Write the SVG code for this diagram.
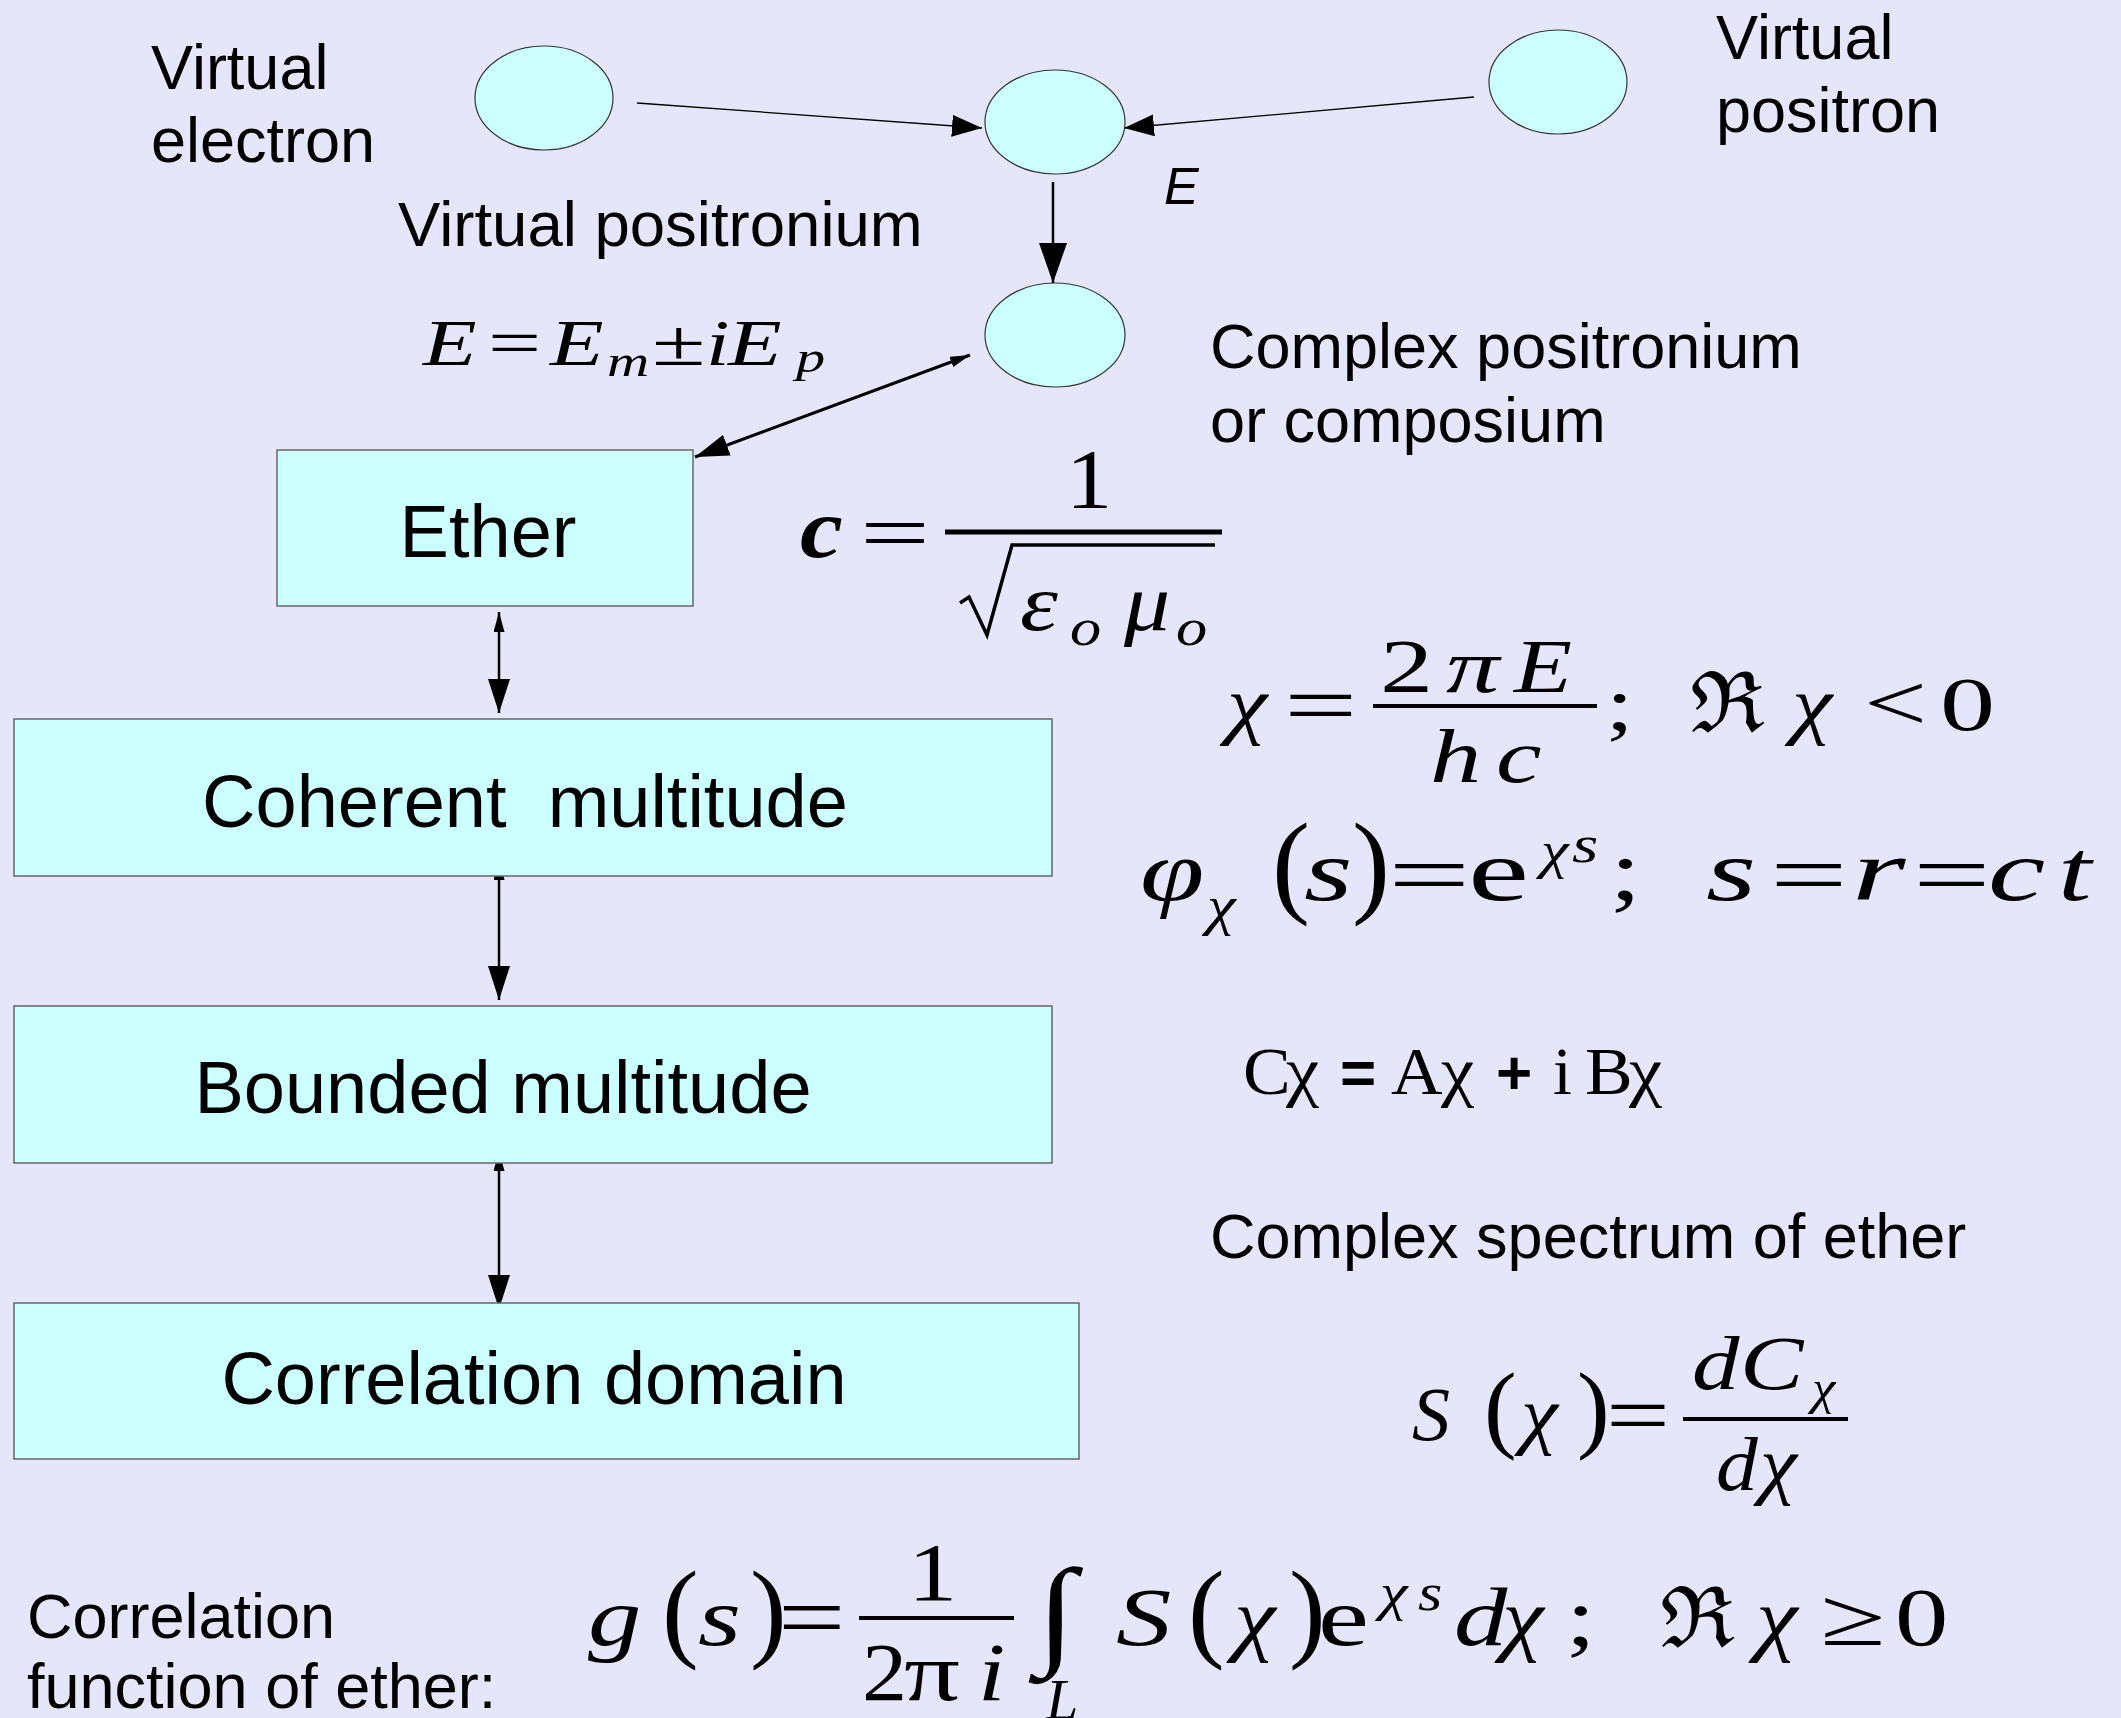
<svg xmlns="http://www.w3.org/2000/svg" width="2121" height="1718" viewBox="0 0 2121 1718">
<style>
.lbl{font-family:"Liberation Sans",Arial,sans-serif;font-size:63px;fill:#000}
.box{font-family:"Liberation Sans",Arial,sans-serif;font-size:74px;fill:#000;text-anchor:middle;white-space:pre}
.m{font-family:"Liberation Serif","DejaVu Serif",serif;fill:#000}
.ms{font-family:"Liberation Sans",Arial,sans-serif;fill:#000;font-weight:bold}
.i{font-style:italic}
.node{fill:#CCFFFF;stroke:#333;stroke-width:1.2}
.rect{fill:#CCFFFF;stroke:#666;stroke-width:1.5}
.con{stroke:#000;fill:none}
.rule{stroke:#000;fill:none}
</style>
<defs>
<marker id="hThin" viewBox="0 0 30 22" refX="30" refY="11" markerWidth="30" markerHeight="22" markerUnits="userSpaceOnUse" orient="auto-start-reverse"><path d="M0,0 L30,11 L0,22 z" fill="#000"/></marker>
<marker id="hMid" viewBox="0 0 40 28" refX="40" refY="14" markerWidth="40" markerHeight="28" markerUnits="userSpaceOnUse" orient="auto-start-reverse"><path d="M0,0 L40,14 L0,28 z" fill="#000"/></marker>
<marker id="hBig" viewBox="0 0 34 22" refX="34" refY="11" markerWidth="34" markerHeight="22" markerUnits="userSpaceOnUse" orient="auto-start-reverse"><path d="M0,0 L34,11 L0,22 z" fill="#000"/></marker>
<marker id="hSmall" viewBox="0 0 20 11" refX="20" refY="5.5" markerWidth="20" markerHeight="11" markerUnits="userSpaceOnUse" orient="auto-start-reverse"><path d="M0,0 L20,5.5 L0,11 z" fill="#000"/></marker>
</defs>
<rect x="0" y="0" width="2121" height="1718" fill="#E6E6FA"/>

<g id="connectors">
<line class="con" x1="637" y1="103" x2="982" y2="128" stroke-width="1.3" marker-end="url(#hThin)"/>
<line class="con" x1="1474" y1="97" x2="1124" y2="128" stroke-width="1.3" marker-end="url(#hThin)"/>
<line class="con" x1="1053" y1="182" x2="1053" y2="283" stroke-width="2.5" marker-end="url(#hMid)"/>
<line class="con" x1="970" y1="355" x2="695" y2="457" stroke-width="3" marker-start="url(#hSmall)" marker-end="url(#hBig)"/>
<line class="con" x1="499" y1="612" x2="499" y2="713" stroke-width="2.5" marker-start="url(#hSmall)" marker-end="url(#hBig)"/>
<line class="con" x1="499" y1="860" x2="499" y2="1000" stroke-width="2.5" marker-start="url(#hSmall)" marker-end="url(#hBig)"/>
<line class="con" x1="499" y1="1151" x2="499" y2="1309" stroke-width="2.5" marker-start="url(#hSmall)" marker-end="url(#hBig)"/>
</g>

<g id="virtual-electron">
<ellipse class="node" cx="544" cy="98" rx="69" ry="52"/>
<text class="lbl" x="151" y="89">Virtual</text>
<text class="lbl" x="151" y="162">electron</text>
</g>
<g id="virtual-positron">
<ellipse class="node" cx="1558" cy="82" rx="69" ry="52"/>
<text class="lbl" x="1716" y="59">Virtual</text>
<text class="lbl" x="1716" y="132">positron</text>
</g>
<g id="virtual-positronium">
<ellipse class="node" cx="1055" cy="122" rx="70" ry="52"/>
<text class="lbl" x="398" y="246" style="font-size:63.5px">Virtual positronium</text>
<text x="1164" y="204" style="font-family:'Liberation Sans',Arial,sans-serif;font-size:52px;font-style:italic">E</text>
</g>
<g id="complex-positronium">
<ellipse class="node" cx="1055" cy="335" rx="70" ry="52"/>
<text class="lbl" x="1210" y="368">Complex positronium</text>
<text class="lbl" x="1210" y="442">or composium</text>
</g>
<g id="ether">
<rect class="rect" x="277" y="450" width="416" height="156"/>
<text class="box" x="488" y="557">Ether</text>
</g>
<g id="coherent-multitude">
<rect class="rect" x="14" y="719" width="1038" height="157"/>
<text class="box" x="525" y="827" xml:space="preserve">Coherent  multitude</text>
</g>
<g id="bounded-multitude">
<rect class="rect" x="14" y="1006" width="1038" height="157"/>
<text class="box" x="503" y="1113">Bounded multitude</text>
</g>
<g id="correlation-domain">
<rect class="rect" x="14" y="1303" width="1065" height="156"/>
<text class="box" x="534" y="1404">Correlation domain</text>
</g>

<g id="eq-energy" style="font-size:65px">
<text class="m i" transform="translate(423 365) scale(1.35 1)">E</text>
<text class="m" transform="translate(488 365) scale(1.45 1)">=</text>
<text class="m i" transform="translate(550 365) scale(1.35 1)">E</text>
<text class="m i" transform="translate(607 376) scale(1.3 1)" style="font-size:45px">m</text>
<text class="m" transform="translate(652 365) scale(1.5 1)">±</text>
<text class="m i" transform="translate(706 365) scale(1.3 1)">i</text>
<text class="m i" transform="translate(728 365) scale(1.35 1)">E</text>
<text class="m i" transform="translate(796 372) scale(1.3 1)" style="font-size:45px">p</text>
</g>

<g id="eq-c">
<text class="m i" transform="translate(800 557) scale(1.15 1)" style="font-size:84px;font-weight:bold">c</text>
<text class="m" transform="translate(860 560) scale(1.55 1)" style="font-size:80px">=</text>
<line class="rule" x1="945" y1="532" x2="1222" y2="532" stroke-width="5"/>
<text class="m" transform="translate(1066 508) scale(1.1 1)" style="font-size:84px">1</text>
<polyline class="rule" points="960,603 969,597 987,635 1012,545 1215,545" stroke-width="3.5"/>
<text class="m i" transform="translate(1020 630) scale(1.2 1)" style="font-size:80px">ε</text>
<text class="m i" transform="translate(1070 645) scale(1.2 1)" style="font-size:52px">o</text>
<text class="m i" transform="translate(1124 630) scale(1.15 1)" style="font-size:80px">μ</text>
<text class="m i" transform="translate(1176 645) scale(1.2 1)" style="font-size:52px">o</text>
</g>

<g id="eq-chi" style="font-size:76px">
<text class="m i" transform="translate(1227 730) scale(1.2 1)">χ</text>
<text class="m" transform="translate(1284 734) scale(1.55 1)" style="font-size:84px">=</text>
<line class="rule" x1="1373" y1="706" x2="1597" y2="706" stroke-width="4"/>
<text class="m" transform="translate(1380 692) scale(1.4 1)">2</text>
<text class="m i" transform="translate(1446 692) scale(1.4 1)">π</text>
<text class="m i" transform="translate(1514 692) scale(1.25 1)">E</text>
<text class="m i" transform="translate(1430 782) scale(1.35 1)">h</text>
<text class="m i" transform="translate(1496 782) scale(1.35 1)">c</text>
<text class="m" transform="translate(1606 730) scale(1.3 1)">;</text>
<text class="m" transform="translate(1690 732) scale(1.05 1)" style="font-size:84px">ℜ</text>
<text class="m i" transform="translate(1792 730) scale(1.2 1)">χ</text>
<text class="m" transform="translate(1864 730) scale(1.4 1)" style="font-size:80px">&lt;</text>
<text class="m" transform="translate(1940 730) scale(1.45 1)">0</text>
</g>

<g id="eq-phi" style="font-size:86px">
<text class="m i" transform="translate(1140 900) scale(1.35 1)">φ</text>
<text class="m i" transform="translate(1207 924) scale(1.2 1)" style="font-size:54px">χ</text>
<text class="m" transform="translate(1272 902)" style="font-size:114px">(</text>
<text class="m i" transform="translate(1304 900) scale(1.45 1)">s</text>
<text class="m" transform="translate(1352 902)" style="font-size:114px">)</text>
<text class="m" transform="translate(1388 904) scale(1.7 1)">=</text>
<text class="m" transform="translate(1468 900) scale(1.6 1)">e</text>
<text class="m i" transform="translate(1541 868) scale(1.2 1)" style="font-size:52px">χ</text>
<text class="m i" transform="translate(1572 862) scale(1.3 1)" style="font-size:52px">s</text>
<text class="m" transform="translate(1610 900) scale(1.3 1)">;</text>
<text class="m i" transform="translate(1706 900) scale(1.5 1)">s</text>
<text class="m" transform="translate(1770 904) scale(1.6 1)">=</text>
<text class="m i" transform="translate(1852 900) scale(1.6 1)">r</text>
<text class="m" transform="translate(1913 904) scale(1.6 1)">=</text>
<text class="m i" transform="translate(1988 900) scale(1.5 1)">c</text>
<text class="m i" transform="translate(2058 900) scale(1.4 1)">t</text>
</g>

<g id="eq-C" style="font-size:68px">
<text class="m" transform="translate(1243 1094) scale(1.05 1)">C</text>
<text class="m" transform="translate(1286 1094) scale(1.1 1)">χ</text>
<text class="ms" transform="translate(1340 1094)" style="font-size:62px">=</text>
<text class="m" transform="translate(1391 1094) scale(1.05 1)">A</text>
<text class="m" transform="translate(1441 1094) scale(1.1 1)">χ</text>
<text class="ms" transform="translate(1496 1094)" style="font-size:62px">+</text>
<text class="m" transform="translate(1553 1094)">i</text>
<text class="m" transform="translate(1585 1094) scale(1.05 1)">B</text>
<text class="m" transform="translate(1629 1094) scale(1.1 1)">χ</text>
</g>

<g id="spectrum-label">
<text class="lbl" x="1210" y="1258">Complex spectrum of ether</text>
</g>

<g id="eq-S" style="font-size:76px">
<text class="m i" transform="translate(1412 1440)">S</text>
<text class="m" transform="translate(1484 1440)" style="font-size:98px">(</text>
<text class="m i" transform="translate(1521 1440) scale(1.1 1)">χ</text>
<text class="m" transform="translate(1577 1440)" style="font-size:98px">)</text>
<text class="m" transform="translate(1606 1444) scale(1.35 1)" style="font-size:84px">=</text>
<line class="rule" x1="1683" y1="1419" x2="1848" y2="1419" stroke-width="4"/>
<text class="m i" transform="translate(1692 1389) scale(1.25 1)">d</text>
<text class="m i" transform="translate(1740 1389) scale(1.25 1)">C</text>
<text class="m i" transform="translate(1812 1404) scale(1.1 1)" style="font-size:48px">χ</text>
<text class="m i" transform="translate(1716 1490) scale(1.1 1)">d</text>
<text class="m i" transform="translate(1760 1490) scale(1.1 1)">χ</text>
</g>

<g id="correlation-label">
<text class="lbl" x="27" y="1638">Correlation</text>
<text class="lbl" x="27" y="1708">function of ether:</text>
</g>

<g id="eq-g" style="font-size:82px">
<text class="m i" transform="translate(588 1645) scale(1.3 1)">g</text>
<text class="m" transform="translate(662 1647)" style="font-size:110px">(</text>
<text class="m i" transform="translate(698 1645) scale(1.35 1)">s</text>
<text class="m" transform="translate(750 1647)" style="font-size:110px">)</text>
<text class="m" transform="translate(778 1648) scale(1.3 1)" style="font-size:92px">=</text>
<line class="rule" x1="859" y1="1618" x2="1014" y2="1618" stroke-width="4"/>
<text class="m" transform="translate(908 1600) scale(1.2 1)">1</text>
<text class="m" transform="translate(862 1700) scale(1.1 1)">2</text>
<text class="m" transform="translate(904 1700) scale(1.35 1)">π</text>
<text class="m i" transform="translate(978 1700) scale(1.2 1)">i</text>
<text class="m" transform="translate(1036 1652) scale(1.2 1)" style="font-size:120px">∫</text>
<text class="m i" transform="translate(1046 1719)" style="font-size:58px">L</text>
<text class="m i" transform="translate(1116 1645) scale(1.35 1)">S</text>
<text class="m" transform="translate(1188 1647)" style="font-size:110px">(</text>
<text class="m i" transform="translate(1234 1645) scale(1.15 1)">χ</text>
<text class="m" transform="translate(1289 1647)" style="font-size:110px">)</text>
<text class="m" transform="translate(1318 1645) scale(1.4 1)">e</text>
<text class="m i" transform="translate(1380 1610) scale(1.2 1)" style="font-size:52px">χ</text>
<text class="m i" transform="translate(1418 1610) scale(1.2 1)" style="font-size:52px">s</text>
<text class="m i" transform="translate(1454 1645) scale(1.3 1)">d</text>
<text class="m i" transform="translate(1502 1645) scale(1.15 1)">χ</text>
<text class="m" transform="translate(1566 1645) scale(1.3 1)">;</text>
<text class="m" transform="translate(1660 1647) scale(1.05 1)" style="font-size:84px">ℜ</text>
<text class="m i" transform="translate(1756 1645) scale(1.15 1)">χ</text>
<text class="m" transform="translate(1820 1645) scale(1.45 1)">≥</text>
<text class="m" transform="translate(1895 1645) scale(1.3 1)">0</text>
</g>
</svg>
